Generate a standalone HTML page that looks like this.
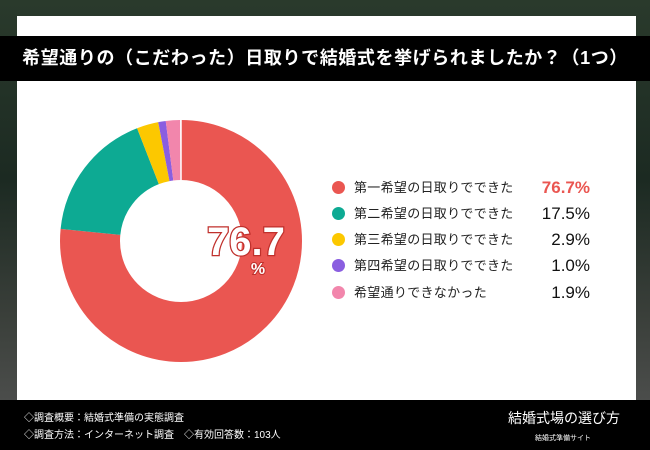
<!DOCTYPE html>
<html><head><meta charset="utf-8"><style>
body{margin:0;width:650px;height:450px;overflow:hidden;position:relative;font-family:"Liberation Sans","Noto Sans CJK JP",sans-serif;background:linear-gradient(180deg,#2a3a2c 0%,#1c2a22 40%,#3a3f3a 70%,#555 100%);}
.card{position:absolute;left:17px;top:16px;width:619px;height:390px;background:#fff;}
.title{position:absolute;left:0;top:36px;width:650px;height:45px;background:#000;color:#fff;font-size:18px;font-weight:bold;line-height:45px;text-align:center;letter-spacing:0.6px;}
.foot{position:absolute;left:0;top:400px;width:650px;height:50px;background:#000;color:#fff;}
.leg{position:absolute;left:332px;font-size:13px;color:#222;height:20px;line-height:20px;width:258px;letter-spacing:0.3px;}
.leg i{display:inline-block;width:13px;height:13px;border-radius:50%;vertical-align:middle;margin-right:9px;margin-top:-2px;}
.leg b{position:absolute;right:0;top:0;font-weight:normal;font-size:17px;color:#111;letter-spacing:0;}
</style></head><body>
<div class="card"></div>
<div class="title">希望通りの（こだわった）日取りで結婚式を挙げられましたか？（1つ）</div>
<svg style="position:absolute;left:0;top:0" width="650" height="450">
<g transform="rotate(-90 181 241)" fill="none" stroke-width="60">
<circle cx="181" cy="241" r="91" pathLength="100" stroke="#ea5651" stroke-dasharray="76.7 100" stroke-dashoffset="0"/>
<circle cx="181" cy="241" r="91" pathLength="100" stroke="#0daa93" stroke-dasharray="17.5 100" stroke-dashoffset="-76.7"/>
<circle cx="181" cy="241" r="91" pathLength="100" stroke="#fcc800" stroke-dasharray="2.9 100" stroke-dashoffset="-94.2"/>
<circle cx="181" cy="241" r="91" pathLength="100" stroke="#8a5ee0" stroke-dasharray="1.0 100" stroke-dashoffset="-97.1"/>
<circle cx="181" cy="241" r="91" pathLength="100" stroke="#f286ac" stroke-dasharray="1.9 100" stroke-dashoffset="-98.1"/>
</g>
<g stroke="#fff" stroke-width="1.5">
<line x1="181" y1="180" x2="181" y2="120"/>
</g>
<text x="246" y="255" text-anchor="middle" font-family="Liberation Sans" font-weight="bold" font-size="40" fill="#fff" stroke="#c0302c" stroke-width="2.5" paint-order="stroke">76.7</text>
<text x="258" y="274" text-anchor="middle" font-family="Liberation Sans" font-weight="bold" font-size="16" fill="#fff" stroke="#c0302c" stroke-width="2" paint-order="stroke">%</text>
</svg>
<div class="leg" style="top:178px"><i style="background:#ea5651"></i>第一希望の日取りでできた<b style="color:#ea5651;font-weight:bold">76.7%</b></div>
<div class="leg" style="top:204px"><i style="background:#0daa93"></i>第二希望の日取りでできた<b>17.5%</b></div>
<div class="leg" style="top:230px"><i style="background:#fcc800"></i>第三希望の日取りでできた<b>2.9%</b></div>
<div class="leg" style="top:256px"><i style="background:#8a5ee0"></i>第四希望の日取りでできた<b>1.0%</b></div>
<div class="leg" style="top:283px"><i style="background:#f286ac"></i>希望通りできなかった<b>1.9%</b></div>
<div class="foot">
<div style="position:absolute;left:24px;top:10px;font-size:10px;line-height:17px">◇調査概要：結婚式準備の実態調査<br>◇調査方法：インターネット調査　◇有効回答数：103人</div>
<div style="position:absolute;left:508px;top:8px;font-size:14px">結婚式場の選び方</div>
<div style="position:absolute;left:535px;top:33px;font-size:7px">結婚式準備サイト</div>
</div>
</body></html>
